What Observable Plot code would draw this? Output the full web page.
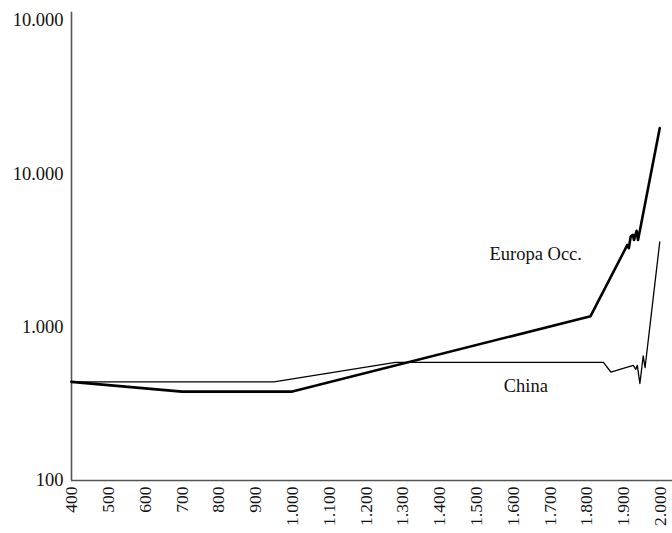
<!DOCTYPE html>
<html>
<head>
<meta charset="utf-8">
<script src="https://cdn.jsdelivr.net/npm/d3@7"></script>
<script src="https://cdn.jsdelivr.net/npm/@observablehq/plot@0.6"></script>
<style>
  html, body { margin: 0; padding: 0; background: #fff; }
  svg { display: block; }
  #chart svg, #chart svg text { font-family: "Liberation Serif", "DejaVu Serif", serif !important; }
</style>
</head>
<body>
<div id="chart"></div>
<script>
// Western Europe (Europa Occ.)
const europaYears  = [400, 700, 1000, 1810, 1910, 1914, 1919, 1925, 1928, 1935, 1939, 1998];
const europaValues = [440, 380, 380, 1180, 3440, 3270, 3900, 4000, 3700, 4250, 3700, 19900];

// China
const chinaYears  = [400, 950, 1280, 1845, 1865, 1926, 1933, 1937, 1944, 1953, 1958, 1998];
const chinaValues = [440, 440, 590, 590, 510, 564, 531, 564, 429, 649, 544, 3600];

// Axis ticks
const xTicks = [400, 500, 600, 700, 800, 900, 1000, 1100, 1200, 1300, 1400, 1500, 1600, 1700, 1800, 1900, 2000];
const xTickLabels = ["400", "500", "600", "700", "800", "900", "1.000", "1.100", "1.200", "1.300", "1.400", "1.500", "1.600", "1.700", "1.800", "1.900", "2.000"];
const yTicks = [100, 1000, 10000, 100000];
const yTickLabels = ["100", "1.000", "10.000", "10.000"];

// Series labels
const seriesNames = ["Europa Occ.", "China"];
const labelYears = [1661, 1634];
const labelValues = [2980, 414];

const europa = europaYears.map((y, i) => ({year: y, value: europaValues[i]}));
const china = chinaYears.map((y, i) => ({year: y, value: chinaValues[i]}));
const labels = seriesNames.map((n, i) => ({name: n, year: labelYears[i], value: labelValues[i]}));

const font = "Liberation Serif";

const chart = Plot.plot({
  width: 672,
  height: 533,
  marginLeft: 71,
  marginRight: 12,
  marginTop: 20,
  marginBottom: 53,
  style: {fontFamily: font, fontSize: "18px", background: "#fff", color: "#111"},
  x: {domain: [400, 2000]},
  y: {type: "log", domain: [100, 100000]},
  marks: [
    Plot.axisX({
      ticks: xTicks,
      tickSize: 0,
      tickPadding: 6,
      tickRotate: -90,
      tickFormat: (d) => xTickLabels[xTicks.indexOf(d)],
      fontSize: 17.5,
      fontFamily: font,
      label: null
    }),
    Plot.axisY({
      ticks: yTicks,
      tickSize: 0,
      tickPadding: 8,
      tickFormat: (d) => yTickLabels[yTicks.indexOf(d)],
      fontSize: 18.5,
      fontFamily: font,
      label: null
    }),
    Plot.ruleX([400], {y1: 100, y2: 113000, stroke: "#555", strokeWidth: 1.6, clip: false}),
    Plot.ruleY([100], {x1: 400, x2: 2040, stroke: "#555", strokeWidth: 1.6, clip: false}),
    Plot.line(china, {x: "year", y: "value", stroke: "#000", strokeWidth: 1.3}),
    Plot.line(europa, {x: "year", y: "value", stroke: "#000", strokeWidth: 2.6}),
    Plot.text(labels, {x: "year", y: "value", text: "name", fontSize: 18.5, fill: "#111", fontFamily: font})
  ]
});

document.getElementById("chart").appendChild(chart);
</script>
</body>
</html>
